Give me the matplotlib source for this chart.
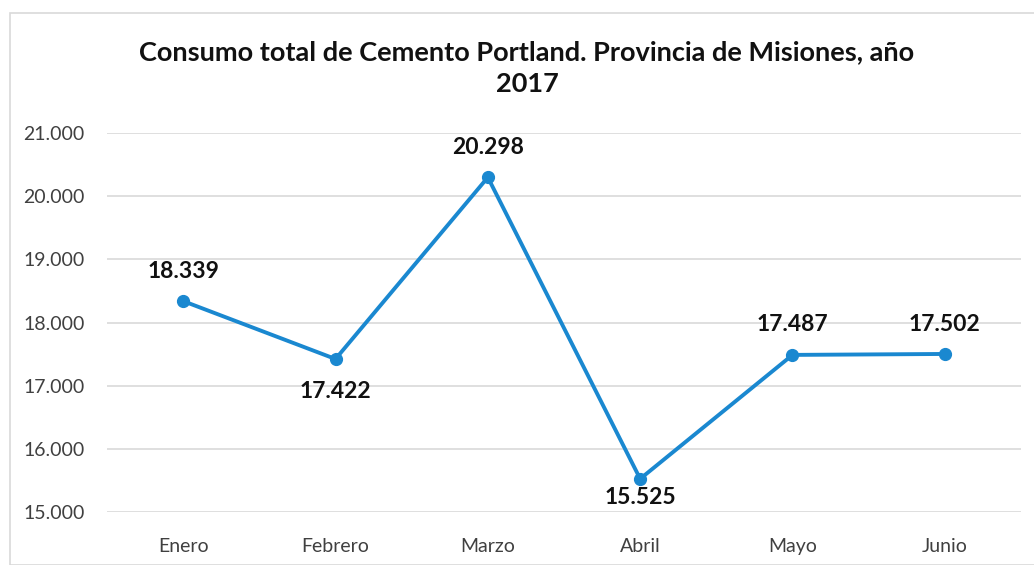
import matplotlib
matplotlib.use("Agg")
import matplotlib.pyplot as plt
from matplotlib.patches import Rectangle
from matplotlib.ticker import FuncFormatter

months = ["Enero", "Febrero", "Marzo", "Abril", "Mayo", "Junio"]
values = [18339, 17422, 20298, 15525, 17487, 17502]
title = "Consumo total de Cemento Portland. Provincia de Misiones, año\n2017"

plt.rcParams['font.family'] = ['Lato', 'DejaVu Sans']

W, H = 1034, 565
fig = plt.figure(figsize=(W / 100, H / 100), dpi=100)
fig.patches.append(Rectangle((10 / W, 0), 1.2, 1 - 13 / H, transform=fig.transFigure,
                             fill=False, edgecolor="#d9d9d9", linewidth=1.2))

ax = fig.add_axes([107 / W, 1 - 512 / H, (1021 - 107) / W, (512 - 133) / H])
x = list(range(len(months)))
color = "#1a88d0"
ax.plot(x, values, color=color, linewidth=2.8, marker="o", markersize=8.5, zorder=3)

ax.set_xlim(-0.5, len(months) - 0.5)
ax.set_ylim(15000, 21000)
ax.set_yticks(range(15000, 21001, 1000))
ax.yaxis.set_major_formatter(FuncFormatter(lambda v, p: f"{int(v):,}".replace(",", ".")))
ax.set_xticks(x)
ax.set_xticklabels(months)
ax.grid(axis="y", color="#d9d9d9", linewidth=1.2)
ax.set_axisbelow(True)
for s in ax.spines.values():
    s.set_visible(False)
ax.tick_params(axis="both", length=0, labelsize=14, colors="#404040")
ax.tick_params(axis="x", pad=19)
ax.tick_params(axis="y", pad=16)

# label placement per point: offset in points (positive above)
offsets = [14, -16, 14, -6, 14, 14]
for xi, v, off in zip(x, values, offsets):
    txt = f"{v:,}".replace(",", ".")
    ax.annotate(txt, (xi, v), xytext=(0, off), textcoords="offset points",
                ha="center", va="bottom" if off > 0 else "top",
                fontsize=16.5, fontweight="bold", color="#111111")

fig.text(527 / W, 1 - 68 / H, title, ha="center", va="center", fontsize=19.5,
         fontweight="bold", color="#111111", linespacing=1.35)

fig.savefig("out.png", dpi=100, facecolor="white")
